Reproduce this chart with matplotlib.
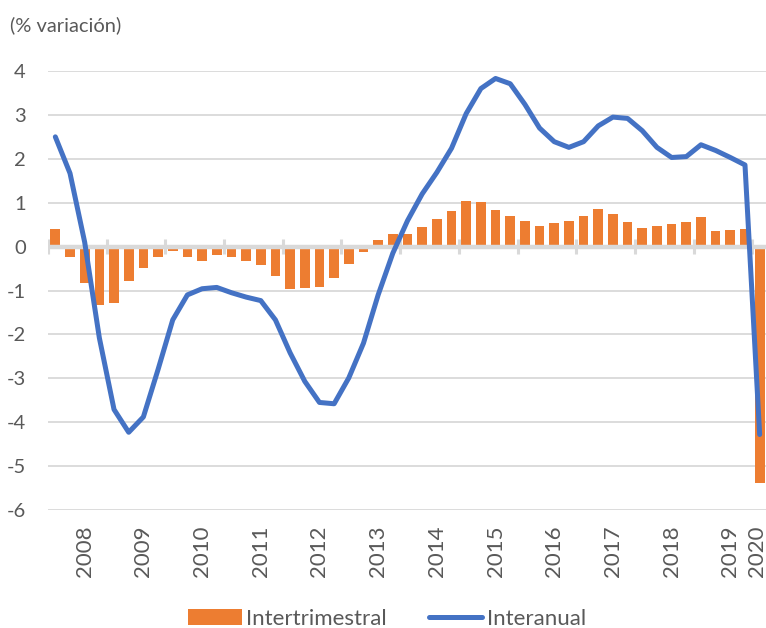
import matplotlib.pyplot as plt
import matplotlib.transforms as mtransforms
import numpy as np

plt.rcParams['font.family'] = ['Lato', 'DejaVu Sans']
plt.rcParams['axes.unicode_minus'] = False

# trimestres 2008T1 - 2020T1
years = list(range(2008, 2021))
intertrimestral = [0.40, -0.24, -0.84, -1.34, -1.29, -0.78, -0.48, -0.23,
                   -0.11, -0.23, -0.32, -0.20, -0.23, -0.33, -0.41, -0.68,
                   -0.97, -0.95, -0.92, -0.72, -0.39, -0.12, 0.15, 0.29,
                   0.28, 0.45, 0.62, 0.82, 1.05, 1.02, 0.84, 0.70,
                   0.58, 0.48, 0.54, 0.58, 0.70, 0.85, 0.75, 0.55,
                   0.42, 0.48, 0.52, 0.57, 0.68, 0.35, 0.38, 0.40,
                   -5.38]
interanual = [2.50, 1.67, 0.10, -2.08, -3.71, -4.23, -3.88, -2.80,
              -1.67, -1.10, -0.96, -0.93, -1.05, -1.15, -1.23, -1.67,
              -2.42, -3.07, -3.55, -3.58, -2.99, -2.20, -1.10, -0.15,
              0.59, 1.20, 1.69, 2.24, 3.03, 3.60, 3.83, 3.71,
              3.24, 2.70, 2.39, 2.26, 2.39, 2.75, 2.95, 2.92,
              2.64, 2.26, 2.03, 2.05, 2.32, 2.19, 2.03, 1.86,
              -4.28]

orange = '#ED7D31'
blue = '#4472C4'
grey_txt = '#595959'
grid_col = '#D9D9D9'

x = np.arange(len(intertrimestral))

fig = plt.figure(figsize=(7.66, 6.28), dpi=100)
ax = fig.add_axes([48 / 766, 1 - 510 / 628, 719 / 766, 439 / 628])

bars = ax.bar(x, intertrimestral, width=0.66, color=orange, zorder=2, label='Intertrimestral')
line, = ax.plot(x, interanual, color=blue, lw=3.6, zorder=4, label='Interanual',
                solid_joinstyle='round', solid_capstyle='round')

# eje en cero con marcas entre años
ax.axhline(0, color=grid_col, lw=3.2, zorder=3)
bounds = np.arange(-0.5, len(x), 4)
ax.vlines(bounds, -0.17, 0.17, color=grid_col, lw=2.2, zorder=3)

ax.set_xlim(-0.5, len(x) - 0.5)
ax.set_ylim(-6, 4)
ax.set_yticks(range(-6, 5))
ax.grid(axis='y', color=grid_col, lw=1.3, zorder=0)
ax.set_axisbelow(True)
for s in ax.spines.values():
    s.set_visible(False)

# etiquetas de año en el tercer trimestre de cada año
pos = [4 * i + 2 for i in range(len(years) - 1)] + [len(x) - 1]
ax.set_xticks(pos)
ax.set_xticklabels([str(y) for y in years], rotation=90, ha='center', va='top')
ax.tick_params(axis='x', length=0, pad=11, labelsize=16, colors=grey_txt)
ax.tick_params(axis='y', length=0, pad=16, labelsize=14.5, colors=grey_txt)

# la última etiqueta (2020) un poco a la izquierda para que no se corte
last = ax.get_xticklabels()[-1]
last.set_transform(last.get_transform() +
                   mtransforms.ScaledTranslation(-3 / 100, 0, fig.dpi_scale_trans))

fig.text(10 / 766, 1 - 25 / 628, '(% variación)', fontsize=14.5, color=grey_txt, va='center')

leg = fig.legend(handles=[bars, line], loc='center',
                 bbox_to_anchor=(387 / 766, 1 - 619 / 628), ncol=2,
                 frameon=False, fontsize=16, handlelength=2.4, handletextpad=0.2,
                 columnspacing=1.9, borderpad=0)
for t in leg.get_texts():
    t.set_color(grey_txt)

fig.savefig('out.png', dpi=100)
